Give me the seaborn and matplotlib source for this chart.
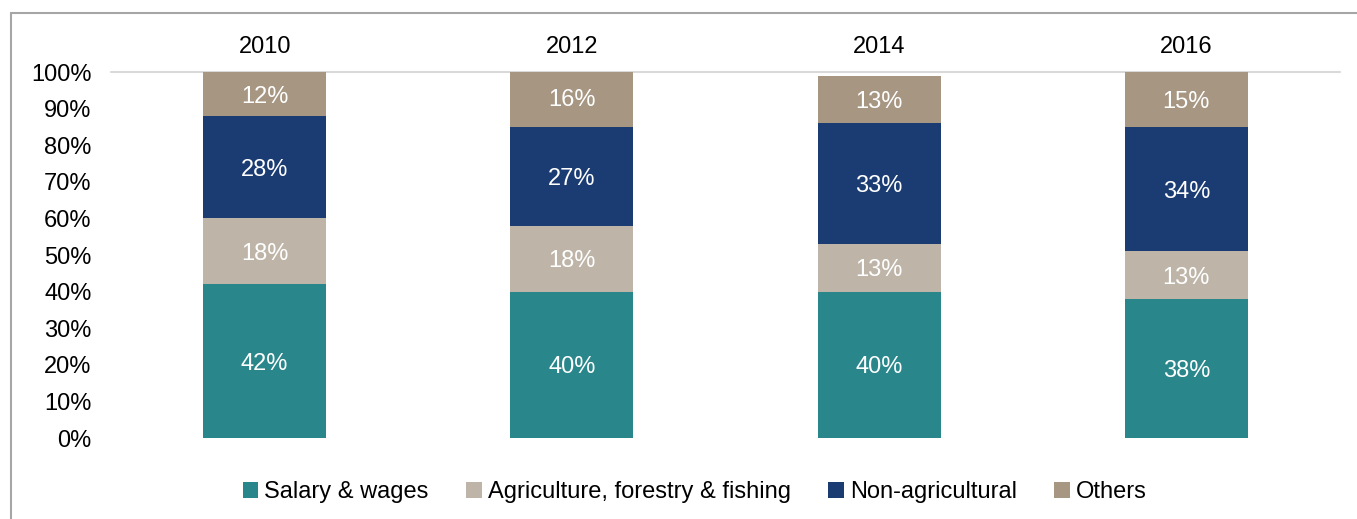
import matplotlib
matplotlib.use("Agg")
import matplotlib.pyplot as plt
from matplotlib.patches import Patch
from matplotlib.lines import Line2D
import numpy as np
import pandas as pd
import seaborn as sns

# Income source shares by survey year (percent)
years = ["2010", "2012", "2014", "2016"]
categories = ["Salary & wages", "Agriculture, forestry & fishing",
              "Non-agricultural", "Others"]
salary = [42, 40, 40, 38]
agriculture = [18, 18, 13, 13]
non_agricultural = [28, 27, 33, 34]
others = [12, 16, 13, 15]
colors = ["#29868a", "#beb5a8", "#1b3c73", "#a69682"]
y_ticks = [0, 10, 20, 30, 40, 50, 60, 70, 80, 90, 100]

sns.set_theme(style="white")
plt.rcParams["font.family"] = ["Liberation Sans", "DejaVu Sans"]
plt.rcParams["text.color"] = "black"
plt.rcParams["xtick.color"] = "black"
plt.rcParams["ytick.color"] = "black"
FS = 17

layers = [salary, agriculture, non_agricultural, others]
cum = np.cumsum(np.array(layers), axis=0)

fig = plt.figure(figsize=(13.57, 5.19), dpi=100)
ax = fig.add_axes([0.0818, 0.156, 0.9057, 0.705])

# Stacked bars: draw cumulative totals from the top layer down
for i in range(len(layers) - 1, -1, -1):
    df = pd.DataFrame({"year": years, "value": cum[i]})
    sns.barplot(data=df, x="year", y="value", order=years, color=colors[i],
                width=0.4, saturation=1, ax=ax, edgecolor="none")

# Segment labels
for i, vals in enumerate(layers):
    for j, v in enumerate(vals):
        mid = cum[i][j] - v / 2
        ax.text(j, mid, f"{v}%", ha="center", va="center_baseline",
                color="white", fontsize=FS)

ax.set_xlim(-0.5, 3.5)
ax.set_ylim(0, 100)
ax.axhline(100, color="#d9d9d9", lw=1.5, zorder=0, clip_on=False)
ax.set_yticks(y_ticks)
ax.set_yticklabels([f"{t}%" for t in y_ticks], fontsize=FS)
ax.xaxis.tick_top()
ax.set_xticks(range(len(years)))
ax.set_xticklabels(years, fontsize=FS)
ax.tick_params(axis="x", length=0, pad=10)
ax.tick_params(axis="y", length=0, pad=14)
ax.set_xlabel("")
ax.set_ylabel("")
for s in ax.spines.values():
    s.set_visible(False)

handles = [Patch(facecolor=c, edgecolor="none", label=l)
           for c, l in zip(colors, categories)]
fig.legend(handles=handles, loc="center", bbox_to_anchor=(0.512, 0.052),
           ncol=4, frameon=False, fontsize=FS, handlelength=0.65,
           handleheight=0.65, handletextpad=0.25, columnspacing=1.6)

# Outer frame (top and left edges)
fig.add_artist(Line2D([11 / 1357, 1.0], [1 - 13 / 519, 1 - 13 / 519],
                      color="#a6a6a6", lw=1.5, transform=fig.transFigure))
fig.add_artist(Line2D([11 / 1357, 11 / 1357], [0.0, 1 - 13 / 519],
                      color="#a6a6a6", lw=1.5, transform=fig.transFigure))

fig.savefig("out.png", dpi=100)
